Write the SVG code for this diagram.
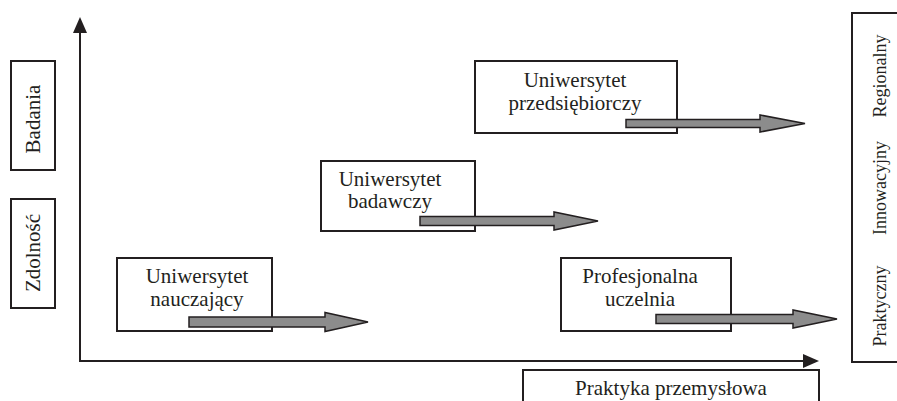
<svg xmlns="http://www.w3.org/2000/svg" width="897" height="401" viewBox="0 0 897 401">
<style>
.box{fill:#fff;stroke:#231f20;stroke-width:2}
.t{font-family:'Liberation Serif',Tinos,'Times New Roman',Times,'DejaVu Serif',serif;font-size:21px;fill:#231f20;text-anchor:middle}
.s{font-family:'Liberation Serif',Tinos,'Times New Roman',Times,'DejaVu Serif',serif;font-size:18px;fill:#231f20;text-anchor:middle}
.ax{stroke:#231f20;stroke-width:2;fill:none}
.arr{fill:#8c8c8c;stroke:#231f20;stroke-width:1.5;stroke-linejoin:miter}
</style>
<rect width="897" height="401" fill="#fff"/>

<g id="axes">
<line class="ax" x1="80" y1="361" x2="80" y2="33"/>
<path d="M73,33 L80,17 L87,33 Z" fill="#231f20"/>
<line class="ax" x1="79" y1="361" x2="804" y2="361"/>
<path d="M803,354 L819,361 L803,368 Z" fill="#231f20"/>
</g>

<g id="badania">
<rect class="box" x="11" y="61" width="44" height="109"/>
<text class="t" font-family="Liberation Serif, serif" transform="translate(40,119) rotate(-90)">Badania</text>
</g>
<g id="zdolnosc">
<rect class="box" x="11" y="199" width="44" height="109"/>
<text class="t" transform="translate(40,253) rotate(-90)">Zdolność</text>
</g>

<g id="nauczajacy">
<rect class="box" x="117" y="258" width="155" height="73"/>
<text class="t" x="197" y="283">Uniwersytet</text>
<text class="t" x="197" y="306">nauczający</text>
</g>
<g id="badawczy">
<rect class="box" x="321" y="161" width="154" height="70"/>
<text class="t" x="390" y="186">Uniwersytet</text>
<text class="t" x="390" y="208">badawczy</text>
</g>
<g id="przedsiebiorczy">
<rect class="box" x="475" y="61" width="202" height="72"/>
<text class="t" x="575" y="87">Uniwersytet</text>
<text class="t" x="575" y="110">przedsiębiorczy</text>
</g>
<g id="profesjonalna">
<rect class="box" x="561" y="258" width="170" height="73"/>
<text class="t" x="640" y="283">Profesjonalna</text>
<text class="t" x="640" y="306">uczelnia</text>
</g>

<g id="praktyka">
<rect class="box" x="523" y="370" width="296" height="40"/>
<text class="t" x="671" y="395">Praktyka przemysłowa</text>
</g>

<g id="typy">
<rect class="box" x="852" y="13" width="60" height="349"/>
<text class="s" transform="translate(886,76) rotate(-90)">Regionalny</text>
<text class="s" transform="translate(886,188) rotate(-90)">Innowacyjny</text>
<text class="s" transform="translate(886,306) rotate(-90)">Praktyczny</text>
</g>

<g id="connectors">
<path class="arr" d="M189,317 L325,317 L325,312.5 L368,322 L325,331.5 L325,327 L189,327 Z"/>
<path class="arr" d="M420,216.5 L554,216.5 L554,212 L598,221 L554,230 L554,225.5 L420,225.5 Z"/>
<path class="arr" d="M626,119.5 L760,119.5 L760,115 L805,123.5 L760,132 L760,127.5 L626,127.5 Z"/>
<path class="arr" d="M656,314.5 L793,314.5 L793,310 L837,319 L793,328 L793,323.5 L656,323.5 Z"/>
</g>
</svg>
